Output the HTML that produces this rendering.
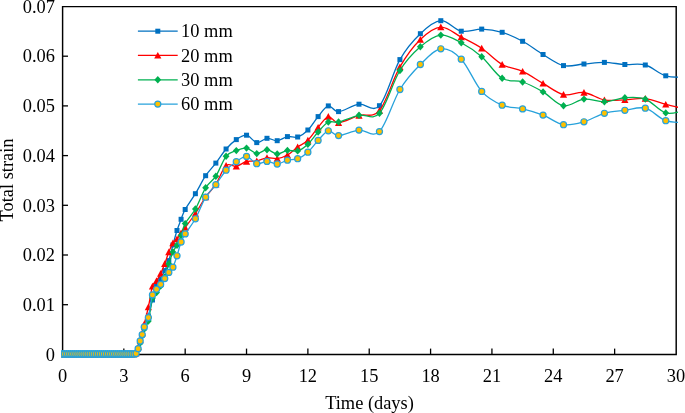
<!DOCTYPE html>
<html><head><meta charset="utf-8"><style>
html,body{margin:0;padding:0;background:#fff;}
body{width:685px;height:413px;overflow:hidden;}
svg{display:block;will-change:transform;}
text{font-family:"Liberation Serif",serif;font-size:18.4px;fill:#000;}
</style></head><body>
<svg width="685" height="413" viewBox="0 0 685 413">
<defs><clipPath id="pa"><rect x="61" y="0" width="617" height="365"/></clipPath></defs>

<path d="M62.6,6.6 H676.2 V354.4 H62.6 Z" fill="none" stroke="#000" stroke-width="1.45"/>
<line x1="62.6" y1="304.70" x2="68.0" y2="304.70" stroke="#000" stroke-width="1.3"/>
<line x1="62.6" y1="255.00" x2="68.0" y2="255.00" stroke="#000" stroke-width="1.3"/>
<line x1="62.6" y1="205.30" x2="68.0" y2="205.30" stroke="#000" stroke-width="1.3"/>
<line x1="62.6" y1="155.60" x2="68.0" y2="155.60" stroke="#000" stroke-width="1.3"/>
<line x1="62.6" y1="105.90" x2="68.0" y2="105.90" stroke="#000" stroke-width="1.3"/>
<line x1="62.6" y1="56.20" x2="68.0" y2="56.20" stroke="#000" stroke-width="1.3"/>
<line x1="123.83" y1="354.4" x2="123.83" y2="348.6" stroke="#000" stroke-width="1.3"/>
<line x1="185.18" y1="354.4" x2="185.18" y2="348.6" stroke="#000" stroke-width="1.3"/>
<line x1="246.53" y1="354.4" x2="246.53" y2="348.6" stroke="#000" stroke-width="1.3"/>
<line x1="307.88" y1="354.4" x2="307.88" y2="348.6" stroke="#000" stroke-width="1.3"/>
<line x1="369.23" y1="354.4" x2="369.23" y2="348.6" stroke="#000" stroke-width="1.3"/>
<line x1="430.58" y1="354.4" x2="430.58" y2="348.6" stroke="#000" stroke-width="1.3"/>
<line x1="491.93" y1="354.4" x2="491.93" y2="348.6" stroke="#000" stroke-width="1.3"/>
<line x1="553.28" y1="354.4" x2="553.28" y2="348.6" stroke="#000" stroke-width="1.3"/>
<line x1="614.63" y1="354.4" x2="614.63" y2="348.6" stroke="#000" stroke-width="1.3"/>
<text x="55" y="360.60" text-anchor="end">0</text>
<text x="55" y="310.90" text-anchor="end">0.01</text>
<text x="55" y="261.20" text-anchor="end">0.02</text>
<text x="55" y="211.50" text-anchor="end">0.03</text>
<text x="55" y="161.80" text-anchor="end">0.04</text>
<text x="55" y="112.10" text-anchor="end">0.05</text>
<text x="55" y="62.40" text-anchor="end">0.06</text>
<text x="55" y="12.70" text-anchor="end">0.07</text>
<text x="62.48" y="381.5" text-anchor="middle">0</text>
<text x="123.83" y="381.5" text-anchor="middle">3</text>
<text x="185.18" y="381.5" text-anchor="middle">6</text>
<text x="246.53" y="381.5" text-anchor="middle">9</text>
<text x="307.88" y="381.5" text-anchor="middle">12</text>
<text x="369.23" y="381.5" text-anchor="middle">15</text>
<text x="430.58" y="381.5" text-anchor="middle">18</text>
<text x="491.93" y="381.5" text-anchor="middle">21</text>
<text x="553.28" y="381.5" text-anchor="middle">24</text>
<text x="614.63" y="381.5" text-anchor="middle">27</text>
<text x="675.98" y="381.5" text-anchor="middle">30</text>
<text x="369.5" y="409" text-anchor="middle">Time (days)</text>
<text transform="translate(13.2,180) rotate(-90)" text-anchor="middle">Total strain</text>
<g clip-path="url(#pa)">
<path d="M62.48,354.00 C62.82,354.00 63.84,354.00 64.52,354.00 C65.21,354.00 65.89,354.00 66.57,354.00 C67.25,354.00 67.93,354.00 68.61,354.00 C69.30,354.00 69.98,354.00 70.66,354.00 C71.34,354.00 72.02,354.00 72.70,354.00 C73.39,354.00 74.07,354.00 74.75,354.00 C75.43,354.00 76.11,354.00 76.79,354.00 C77.48,354.00 78.16,354.00 78.84,354.00 C79.52,354.00 80.20,354.00 80.88,354.00 C81.57,354.00 82.25,354.00 82.93,354.00 C83.61,354.00 84.29,354.00 84.97,354.00 C85.66,354.00 86.34,354.00 87.02,354.00 C87.70,354.00 88.38,354.00 89.06,354.00 C89.75,354.00 90.43,354.00 91.11,354.00 C91.79,354.00 92.47,354.00 93.16,354.00 C93.84,354.00 94.52,354.00 95.20,354.00 C95.88,354.00 96.56,354.00 97.25,354.00 C97.93,354.00 98.61,354.00 99.29,354.00 C99.97,354.00 100.65,354.00 101.33,354.00 C102.02,354.00 102.70,354.00 103.38,354.00 C104.06,354.00 104.74,354.00 105.42,354.00 C106.11,354.00 106.79,354.00 107.47,354.00 C108.15,354.00 108.83,354.00 109.51,354.00 C110.20,354.00 110.88,354.00 111.56,354.00 C112.24,354.00 112.92,354.00 113.60,354.00 C114.29,354.00 114.97,354.00 115.65,354.00 C116.33,354.00 117.01,354.00 117.69,354.00 C118.38,354.00 119.06,354.00 119.74,354.00 C120.42,354.00 121.10,354.00 121.78,354.00 C122.47,354.00 123.15,354.00 123.83,354.00 C124.51,354.00 125.19,354.00 125.88,354.00 C126.56,354.00 127.24,354.00 127.92,354.00 C128.60,354.00 129.28,354.00 129.97,354.00 C130.65,354.00 131.33,354.00 132.01,354.00 C132.69,354.00 133.37,354.00 134.06,354.00 C134.74,354.00 135.42,354.83 136.10,354.00 C136.78,353.17 137.46,351.00 138.15,349.00 C138.83,347.00 139.51,344.33 140.19,342.00 C140.87,339.67 141.55,337.33 142.23,335.00 C142.92,332.67 143.26,331.17 144.28,328.00 C145.30,324.83 147.01,320.67 148.37,316.00 C149.73,311.33 151.10,305.00 152.46,300.00 C153.82,295.00 155.19,289.50 156.55,286.00 C157.91,282.50 159.28,281.57 160.64,279.00 C162.00,276.43 163.37,273.67 164.73,270.60 C166.09,267.53 167.46,264.87 168.82,260.60 C170.18,256.33 171.55,250.02 172.91,245.00 C174.27,239.98 175.64,234.78 177.00,230.50 C178.36,226.22 179.73,222.80 181.09,219.30 C182.45,215.80 182.79,213.77 185.18,209.50 C187.57,205.23 192.00,199.33 195.40,193.70 C198.81,188.07 202.22,180.80 205.63,175.70 C209.04,170.60 212.45,167.55 215.85,163.10 C219.26,158.65 222.67,152.92 226.08,149.00 C229.49,145.08 232.90,141.90 236.30,139.60 C239.71,137.30 243.12,134.70 246.53,135.20 C249.94,135.70 253.35,142.08 256.75,142.60 C260.16,143.12 263.57,138.62 266.98,138.30 C270.39,137.98 273.80,140.98 277.20,140.70 C280.61,140.42 284.02,137.22 287.43,136.60 C290.84,135.98 294.25,138.10 297.65,137.00 C301.06,135.90 304.47,133.40 307.88,130.00 C311.29,126.60 314.70,120.62 318.11,116.60 C321.51,112.58 324.92,106.73 328.33,105.90 C331.74,105.07 333.44,111.88 338.56,111.60 C343.67,111.32 352.19,105.18 359.00,104.20 C365.82,103.22 372.64,113.13 379.45,105.70 C386.27,98.27 393.09,71.60 399.91,59.60 C406.72,47.60 413.54,40.18 420.36,33.70 C427.17,27.22 433.99,21.12 440.81,20.70 C447.62,20.28 454.44,29.80 461.25,31.20 C468.07,32.60 474.89,28.92 481.70,29.10 C488.52,29.28 495.34,30.27 502.16,32.30 C508.97,34.33 515.79,37.60 522.61,41.30 C529.42,45.00 536.24,50.45 543.05,54.50 C549.87,58.55 556.69,64.02 563.50,65.60 C570.32,67.18 577.14,64.53 583.96,64.00 C590.77,63.47 597.59,62.32 604.40,62.40 C611.22,62.48 618.04,64.07 624.86,64.50 C631.67,64.93 638.49,63.12 645.30,65.00 C652.12,66.88 658.94,73.80 665.75,75.80 C672.57,77.80 682.80,76.80 686.21,77.00" fill="none" stroke="#0070C0" stroke-width="1.3"/>
<rect x="59.98" y="351.50" width="5" height="5" fill="#0070C0"/>
<rect x="62.02" y="351.50" width="5" height="5" fill="#0070C0"/>
<rect x="64.07" y="351.50" width="5" height="5" fill="#0070C0"/>
<rect x="66.11" y="351.50" width="5" height="5" fill="#0070C0"/>
<rect x="68.16" y="351.50" width="5" height="5" fill="#0070C0"/>
<rect x="70.20" y="351.50" width="5" height="5" fill="#0070C0"/>
<rect x="72.25" y="351.50" width="5" height="5" fill="#0070C0"/>
<rect x="74.29" y="351.50" width="5" height="5" fill="#0070C0"/>
<rect x="76.34" y="351.50" width="5" height="5" fill="#0070C0"/>
<rect x="78.38" y="351.50" width="5" height="5" fill="#0070C0"/>
<rect x="80.43" y="351.50" width="5" height="5" fill="#0070C0"/>
<rect x="82.47" y="351.50" width="5" height="5" fill="#0070C0"/>
<rect x="84.52" y="351.50" width="5" height="5" fill="#0070C0"/>
<rect x="86.56" y="351.50" width="5" height="5" fill="#0070C0"/>
<rect x="88.61" y="351.50" width="5" height="5" fill="#0070C0"/>
<rect x="90.66" y="351.50" width="5" height="5" fill="#0070C0"/>
<rect x="92.70" y="351.50" width="5" height="5" fill="#0070C0"/>
<rect x="94.75" y="351.50" width="5" height="5" fill="#0070C0"/>
<rect x="96.79" y="351.50" width="5" height="5" fill="#0070C0"/>
<rect x="98.83" y="351.50" width="5" height="5" fill="#0070C0"/>
<rect x="100.88" y="351.50" width="5" height="5" fill="#0070C0"/>
<rect x="102.92" y="351.50" width="5" height="5" fill="#0070C0"/>
<rect x="104.97" y="351.50" width="5" height="5" fill="#0070C0"/>
<rect x="107.01" y="351.50" width="5" height="5" fill="#0070C0"/>
<rect x="109.06" y="351.50" width="5" height="5" fill="#0070C0"/>
<rect x="111.10" y="351.50" width="5" height="5" fill="#0070C0"/>
<rect x="113.15" y="351.50" width="5" height="5" fill="#0070C0"/>
<rect x="115.19" y="351.50" width="5" height="5" fill="#0070C0"/>
<rect x="117.24" y="351.50" width="5" height="5" fill="#0070C0"/>
<rect x="119.28" y="351.50" width="5" height="5" fill="#0070C0"/>
<rect x="121.33" y="351.50" width="5" height="5" fill="#0070C0"/>
<rect x="123.38" y="351.50" width="5" height="5" fill="#0070C0"/>
<rect x="125.42" y="351.50" width="5" height="5" fill="#0070C0"/>
<rect x="127.47" y="351.50" width="5" height="5" fill="#0070C0"/>
<rect x="129.51" y="351.50" width="5" height="5" fill="#0070C0"/>
<rect x="131.56" y="351.50" width="5" height="5" fill="#0070C0"/>
<rect x="133.60" y="351.50" width="5" height="5" fill="#0070C0"/>
<rect x="135.65" y="346.50" width="5" height="5" fill="#0070C0"/>
<rect x="137.69" y="339.50" width="5" height="5" fill="#0070C0"/>
<rect x="139.73" y="332.50" width="5" height="5" fill="#0070C0"/>
<rect x="141.78" y="325.50" width="5" height="5" fill="#0070C0"/>
<rect x="145.87" y="313.50" width="5" height="5" fill="#0070C0"/>
<rect x="149.96" y="297.50" width="5" height="5" fill="#0070C0"/>
<rect x="154.05" y="283.50" width="5" height="5" fill="#0070C0"/>
<rect x="158.14" y="276.50" width="5" height="5" fill="#0070C0"/>
<rect x="162.23" y="268.10" width="5" height="5" fill="#0070C0"/>
<rect x="166.32" y="258.10" width="5" height="5" fill="#0070C0"/>
<rect x="170.41" y="242.50" width="5" height="5" fill="#0070C0"/>
<rect x="174.50" y="228.00" width="5" height="5" fill="#0070C0"/>
<rect x="178.59" y="216.80" width="5" height="5" fill="#0070C0"/>
<rect x="182.68" y="207.00" width="5" height="5" fill="#0070C0"/>
<rect x="192.90" y="191.20" width="5" height="5" fill="#0070C0"/>
<rect x="203.13" y="173.20" width="5" height="5" fill="#0070C0"/>
<rect x="213.35" y="160.60" width="5" height="5" fill="#0070C0"/>
<rect x="223.58" y="146.50" width="5" height="5" fill="#0070C0"/>
<rect x="233.80" y="137.10" width="5" height="5" fill="#0070C0"/>
<rect x="244.03" y="132.70" width="5" height="5" fill="#0070C0"/>
<rect x="254.25" y="140.10" width="5" height="5" fill="#0070C0"/>
<rect x="264.48" y="135.80" width="5" height="5" fill="#0070C0"/>
<rect x="274.70" y="138.20" width="5" height="5" fill="#0070C0"/>
<rect x="284.93" y="134.10" width="5" height="5" fill="#0070C0"/>
<rect x="295.15" y="134.50" width="5" height="5" fill="#0070C0"/>
<rect x="305.38" y="127.50" width="5" height="5" fill="#0070C0"/>
<rect x="315.61" y="114.10" width="5" height="5" fill="#0070C0"/>
<rect x="325.83" y="103.40" width="5" height="5" fill="#0070C0"/>
<rect x="336.06" y="109.10" width="5" height="5" fill="#0070C0"/>
<rect x="356.50" y="101.70" width="5" height="5" fill="#0070C0"/>
<rect x="376.95" y="103.20" width="5" height="5" fill="#0070C0"/>
<rect x="397.41" y="57.10" width="5" height="5" fill="#0070C0"/>
<rect x="417.86" y="31.20" width="5" height="5" fill="#0070C0"/>
<rect x="438.31" y="18.20" width="5" height="5" fill="#0070C0"/>
<rect x="458.75" y="28.70" width="5" height="5" fill="#0070C0"/>
<rect x="479.20" y="26.60" width="5" height="5" fill="#0070C0"/>
<rect x="499.66" y="29.80" width="5" height="5" fill="#0070C0"/>
<rect x="520.11" y="38.80" width="5" height="5" fill="#0070C0"/>
<rect x="540.55" y="52.00" width="5" height="5" fill="#0070C0"/>
<rect x="561.00" y="63.10" width="5" height="5" fill="#0070C0"/>
<rect x="581.46" y="61.50" width="5" height="5" fill="#0070C0"/>
<rect x="601.90" y="59.90" width="5" height="5" fill="#0070C0"/>
<rect x="622.36" y="62.00" width="5" height="5" fill="#0070C0"/>
<rect x="642.80" y="62.50" width="5" height="5" fill="#0070C0"/>
<rect x="663.25" y="73.30" width="5" height="5" fill="#0070C0"/>
<rect x="683.71" y="74.50" width="5" height="5" fill="#0070C0"/>
<path d="M62.48,354.00 C62.82,354.00 63.84,354.00 64.52,354.00 C65.21,354.00 65.89,354.00 66.57,354.00 C67.25,354.00 67.93,354.00 68.61,354.00 C69.30,354.00 69.98,354.00 70.66,354.00 C71.34,354.00 72.02,354.00 72.70,354.00 C73.39,354.00 74.07,354.00 74.75,354.00 C75.43,354.00 76.11,354.00 76.79,354.00 C77.48,354.00 78.16,354.00 78.84,354.00 C79.52,354.00 80.20,354.00 80.88,354.00 C81.57,354.00 82.25,354.00 82.93,354.00 C83.61,354.00 84.29,354.00 84.97,354.00 C85.66,354.00 86.34,354.00 87.02,354.00 C87.70,354.00 88.38,354.00 89.06,354.00 C89.75,354.00 90.43,354.00 91.11,354.00 C91.79,354.00 92.47,354.00 93.16,354.00 C93.84,354.00 94.52,354.00 95.20,354.00 C95.88,354.00 96.56,354.00 97.25,354.00 C97.93,354.00 98.61,354.00 99.29,354.00 C99.97,354.00 100.65,354.00 101.33,354.00 C102.02,354.00 102.70,354.00 103.38,354.00 C104.06,354.00 104.74,354.00 105.42,354.00 C106.11,354.00 106.79,354.00 107.47,354.00 C108.15,354.00 108.83,354.00 109.51,354.00 C110.20,354.00 110.88,354.00 111.56,354.00 C112.24,354.00 112.92,354.00 113.60,354.00 C114.29,354.00 114.97,354.00 115.65,354.00 C116.33,354.00 117.01,354.00 117.69,354.00 C118.38,354.00 119.06,354.00 119.74,354.00 C120.42,354.00 121.10,354.00 121.78,354.00 C122.47,354.00 123.15,354.00 123.83,354.00 C124.51,354.00 125.19,354.00 125.88,354.00 C126.56,354.00 127.24,354.00 127.92,354.00 C128.60,354.00 129.28,354.00 129.97,354.00 C130.65,354.00 131.33,354.00 132.01,354.00 C132.69,354.00 133.37,354.17 134.06,354.00 C134.74,353.83 135.42,354.17 136.10,353.00 C136.78,351.83 137.46,349.17 138.15,347.00 C138.83,344.83 139.51,342.33 140.19,340.00 C140.87,337.67 141.55,335.67 142.23,333.00 C142.92,330.33 143.26,328.33 144.28,324.00 C145.30,319.67 147.01,313.28 148.37,307.00 C149.73,300.72 151.10,290.67 152.46,286.30 C153.82,281.93 155.19,282.92 156.55,280.80 C157.91,278.68 159.28,276.43 160.64,273.60 C162.00,270.77 163.37,267.40 164.73,263.80 C166.09,260.20 167.46,255.47 168.82,252.00 C170.18,248.53 171.55,245.17 172.91,243.00 C174.27,240.83 175.64,240.67 177.00,239.00 C178.36,237.33 179.73,234.92 181.09,233.00 C182.45,231.08 182.79,230.75 185.18,227.50 C187.57,224.25 192.00,218.58 195.40,213.50 C198.81,208.42 202.22,201.88 205.63,197.00 C209.04,192.12 212.45,189.45 215.85,184.20 C219.26,178.95 222.67,168.48 226.08,165.50 C229.49,162.52 232.90,166.97 236.30,166.30 C239.71,165.63 243.12,162.38 246.53,161.50 C249.94,160.62 253.35,161.62 256.75,161.00 C260.16,160.38 263.57,158.20 266.98,157.80 C270.39,157.40 273.80,159.07 277.20,158.60 C280.61,158.13 284.02,156.93 287.43,155.00 C290.84,153.07 294.25,149.45 297.65,147.00 C301.06,144.55 304.47,143.57 307.88,140.30 C311.29,137.03 314.70,131.35 318.11,127.40 C321.51,123.45 324.92,117.38 328.33,116.60 C331.74,115.82 333.44,122.88 338.56,122.70 C343.67,122.52 352.19,117.53 359.00,115.50 C365.82,113.47 372.64,118.60 379.45,110.50 C386.27,102.40 393.09,78.73 399.91,66.90 C406.72,55.07 413.54,46.13 420.36,39.50 C427.17,32.87 433.99,27.50 440.81,27.10 C447.62,26.70 454.44,33.57 461.25,37.10 C468.07,40.63 474.89,43.73 481.70,48.30 C488.52,52.87 495.34,60.65 502.16,64.50 C508.97,68.35 515.79,68.25 522.61,71.40 C529.42,74.55 536.24,79.53 543.05,83.40 C549.87,87.27 556.69,93.08 563.50,94.60 C570.32,96.12 577.14,91.62 583.96,92.50 C590.77,93.38 597.59,98.67 604.40,99.90 C611.22,101.13 618.04,100.12 624.86,99.90 C631.67,99.68 638.49,97.85 645.30,98.60 C652.12,99.35 658.94,102.67 665.75,104.40 C672.57,106.13 682.80,108.23 686.21,109.00" fill="none" stroke="#FF0000" stroke-width="1.3"/>
<path d="M62.48,350.50 L66.08,357.20 L58.88,357.20 Z" fill="#FF0000"/>
<path d="M64.52,350.50 L68.12,357.20 L60.92,357.20 Z" fill="#FF0000"/>
<path d="M66.57,350.50 L70.17,357.20 L62.97,357.20 Z" fill="#FF0000"/>
<path d="M68.61,350.50 L72.21,357.20 L65.02,357.20 Z" fill="#FF0000"/>
<path d="M70.66,350.50 L74.26,357.20 L67.06,357.20 Z" fill="#FF0000"/>
<path d="M72.70,350.50 L76.30,357.20 L69.11,357.20 Z" fill="#FF0000"/>
<path d="M74.75,350.50 L78.35,357.20 L71.15,357.20 Z" fill="#FF0000"/>
<path d="M76.79,350.50 L80.39,357.20 L73.19,357.20 Z" fill="#FF0000"/>
<path d="M78.84,350.50 L82.44,357.20 L75.24,357.20 Z" fill="#FF0000"/>
<path d="M80.88,350.50 L84.48,357.20 L77.28,357.20 Z" fill="#FF0000"/>
<path d="M82.93,350.50 L86.53,357.20 L79.33,357.20 Z" fill="#FF0000"/>
<path d="M84.97,350.50 L88.57,357.20 L81.38,357.20 Z" fill="#FF0000"/>
<path d="M87.02,350.50 L90.62,357.20 L83.42,357.20 Z" fill="#FF0000"/>
<path d="M89.06,350.50 L92.66,357.20 L85.47,357.20 Z" fill="#FF0000"/>
<path d="M91.11,350.50 L94.71,357.20 L87.51,357.20 Z" fill="#FF0000"/>
<path d="M93.16,350.50 L96.75,357.20 L89.56,357.20 Z" fill="#FF0000"/>
<path d="M95.20,350.50 L98.80,357.20 L91.60,357.20 Z" fill="#FF0000"/>
<path d="M97.25,350.50 L100.84,357.20 L93.65,357.20 Z" fill="#FF0000"/>
<path d="M99.29,350.50 L102.89,357.20 L95.69,357.20 Z" fill="#FF0000"/>
<path d="M101.33,350.50 L104.93,357.20 L97.73,357.20 Z" fill="#FF0000"/>
<path d="M103.38,350.50 L106.98,357.20 L99.78,357.20 Z" fill="#FF0000"/>
<path d="M105.42,350.50 L109.02,357.20 L101.83,357.20 Z" fill="#FF0000"/>
<path d="M107.47,350.50 L111.07,357.20 L103.87,357.20 Z" fill="#FF0000"/>
<path d="M109.51,350.50 L113.11,357.20 L105.91,357.20 Z" fill="#FF0000"/>
<path d="M111.56,350.50 L115.16,357.20 L107.96,357.20 Z" fill="#FF0000"/>
<path d="M113.60,350.50 L117.20,357.20 L110.00,357.20 Z" fill="#FF0000"/>
<path d="M115.65,350.50 L119.25,357.20 L112.05,357.20 Z" fill="#FF0000"/>
<path d="M117.69,350.50 L121.29,357.20 L114.09,357.20 Z" fill="#FF0000"/>
<path d="M119.74,350.50 L123.34,357.20 L116.14,357.20 Z" fill="#FF0000"/>
<path d="M121.78,350.50 L125.38,357.20 L118.19,357.20 Z" fill="#FF0000"/>
<path d="M123.83,350.50 L127.43,357.20 L120.23,357.20 Z" fill="#FF0000"/>
<path d="M125.88,350.50 L129.47,357.20 L122.28,357.20 Z" fill="#FF0000"/>
<path d="M127.92,350.50 L131.52,357.20 L124.32,357.20 Z" fill="#FF0000"/>
<path d="M129.97,350.50 L133.56,357.20 L126.37,357.20 Z" fill="#FF0000"/>
<path d="M132.01,350.50 L135.61,357.20 L128.41,357.20 Z" fill="#FF0000"/>
<path d="M134.06,350.50 L137.66,357.20 L130.46,357.20 Z" fill="#FF0000"/>
<path d="M136.10,349.50 L139.70,356.20 L132.50,356.20 Z" fill="#FF0000"/>
<path d="M138.15,343.50 L141.75,350.20 L134.55,350.20 Z" fill="#FF0000"/>
<path d="M140.19,336.50 L143.79,343.20 L136.59,343.20 Z" fill="#FF0000"/>
<path d="M142.23,329.50 L145.83,336.20 L138.63,336.20 Z" fill="#FF0000"/>
<path d="M144.28,320.50 L147.88,327.20 L140.68,327.20 Z" fill="#FF0000"/>
<path d="M148.37,303.50 L151.97,310.20 L144.77,310.20 Z" fill="#FF0000"/>
<path d="M152.46,282.80 L156.06,289.50 L148.86,289.50 Z" fill="#FF0000"/>
<path d="M156.55,277.30 L160.15,284.00 L152.95,284.00 Z" fill="#FF0000"/>
<path d="M160.64,270.10 L164.24,276.80 L157.04,276.80 Z" fill="#FF0000"/>
<path d="M164.73,260.30 L168.33,267.00 L161.13,267.00 Z" fill="#FF0000"/>
<path d="M168.82,248.50 L172.42,255.20 L165.22,255.20 Z" fill="#FF0000"/>
<path d="M172.91,239.50 L176.51,246.20 L169.31,246.20 Z" fill="#FF0000"/>
<path d="M177.00,235.50 L180.60,242.20 L173.40,242.20 Z" fill="#FF0000"/>
<path d="M181.09,229.50 L184.69,236.20 L177.49,236.20 Z" fill="#FF0000"/>
<path d="M185.18,224.00 L188.78,230.70 L181.58,230.70 Z" fill="#FF0000"/>
<path d="M195.40,210.00 L199.00,216.70 L191.80,216.70 Z" fill="#FF0000"/>
<path d="M205.63,193.50 L209.23,200.20 L202.03,200.20 Z" fill="#FF0000"/>
<path d="M215.85,180.70 L219.45,187.40 L212.25,187.40 Z" fill="#FF0000"/>
<path d="M226.08,162.00 L229.68,168.70 L222.48,168.70 Z" fill="#FF0000"/>
<path d="M236.30,162.80 L239.90,169.50 L232.70,169.50 Z" fill="#FF0000"/>
<path d="M246.53,158.00 L250.13,164.70 L242.93,164.70 Z" fill="#FF0000"/>
<path d="M256.75,157.50 L260.36,164.20 L253.16,164.20 Z" fill="#FF0000"/>
<path d="M266.98,154.30 L270.58,161.00 L263.38,161.00 Z" fill="#FF0000"/>
<path d="M277.20,155.10 L280.81,161.80 L273.60,161.80 Z" fill="#FF0000"/>
<path d="M287.43,151.50 L291.03,158.20 L283.83,158.20 Z" fill="#FF0000"/>
<path d="M297.65,143.50 L301.25,150.20 L294.05,150.20 Z" fill="#FF0000"/>
<path d="M307.88,136.80 L311.48,143.50 L304.28,143.50 Z" fill="#FF0000"/>
<path d="M318.11,123.90 L321.71,130.60 L314.50,130.60 Z" fill="#FF0000"/>
<path d="M328.33,113.10 L331.93,119.80 L324.73,119.80 Z" fill="#FF0000"/>
<path d="M338.56,119.20 L342.16,125.90 L334.95,125.90 Z" fill="#FF0000"/>
<path d="M359.00,112.00 L362.61,118.70 L355.40,118.70 Z" fill="#FF0000"/>
<path d="M379.45,107.00 L383.06,113.70 L375.85,113.70 Z" fill="#FF0000"/>
<path d="M399.91,63.40 L403.51,70.10 L396.31,70.10 Z" fill="#FF0000"/>
<path d="M420.36,36.00 L423.96,42.70 L416.75,42.70 Z" fill="#FF0000"/>
<path d="M440.81,23.60 L444.41,30.30 L437.20,30.30 Z" fill="#FF0000"/>
<path d="M461.25,33.60 L464.86,40.30 L457.65,40.30 Z" fill="#FF0000"/>
<path d="M481.70,44.80 L485.31,51.50 L478.10,51.50 Z" fill="#FF0000"/>
<path d="M502.16,61.00 L505.76,67.70 L498.56,67.70 Z" fill="#FF0000"/>
<path d="M522.61,67.90 L526.21,74.60 L519.00,74.60 Z" fill="#FF0000"/>
<path d="M543.05,79.90 L546.65,86.60 L539.45,86.60 Z" fill="#FF0000"/>
<path d="M563.50,91.10 L567.11,97.80 L559.90,97.80 Z" fill="#FF0000"/>
<path d="M583.96,89.00 L587.56,95.70 L580.36,95.70 Z" fill="#FF0000"/>
<path d="M604.40,96.40 L608.00,103.10 L600.80,103.10 Z" fill="#FF0000"/>
<path d="M624.86,96.40 L628.46,103.10 L621.25,103.10 Z" fill="#FF0000"/>
<path d="M645.30,95.10 L648.90,101.80 L641.70,101.80 Z" fill="#FF0000"/>
<path d="M665.75,100.90 L669.36,107.60 L662.15,107.60 Z" fill="#FF0000"/>
<path d="M686.21,105.50 L689.81,112.20 L682.61,112.20 Z" fill="#FF0000"/>
<path d="M62.48,354.00 C62.82,354.00 63.84,354.00 64.52,354.00 C65.21,354.00 65.89,354.00 66.57,354.00 C67.25,354.00 67.93,354.00 68.61,354.00 C69.30,354.00 69.98,354.00 70.66,354.00 C71.34,354.00 72.02,354.00 72.70,354.00 C73.39,354.00 74.07,354.00 74.75,354.00 C75.43,354.00 76.11,354.00 76.79,354.00 C77.48,354.00 78.16,354.00 78.84,354.00 C79.52,354.00 80.20,354.00 80.88,354.00 C81.57,354.00 82.25,354.00 82.93,354.00 C83.61,354.00 84.29,354.00 84.97,354.00 C85.66,354.00 86.34,354.00 87.02,354.00 C87.70,354.00 88.38,354.00 89.06,354.00 C89.75,354.00 90.43,354.00 91.11,354.00 C91.79,354.00 92.47,354.00 93.16,354.00 C93.84,354.00 94.52,354.00 95.20,354.00 C95.88,354.00 96.56,354.00 97.25,354.00 C97.93,354.00 98.61,354.00 99.29,354.00 C99.97,354.00 100.65,354.00 101.33,354.00 C102.02,354.00 102.70,354.00 103.38,354.00 C104.06,354.00 104.74,354.00 105.42,354.00 C106.11,354.00 106.79,354.00 107.47,354.00 C108.15,354.00 108.83,354.00 109.51,354.00 C110.20,354.00 110.88,354.00 111.56,354.00 C112.24,354.00 112.92,354.00 113.60,354.00 C114.29,354.00 114.97,354.00 115.65,354.00 C116.33,354.00 117.01,354.00 117.69,354.00 C118.38,354.00 119.06,354.00 119.74,354.00 C120.42,354.00 121.10,354.00 121.78,354.00 C122.47,354.00 123.15,354.00 123.83,354.00 C124.51,354.00 125.19,354.00 125.88,354.00 C126.56,354.00 127.24,354.00 127.92,354.00 C128.60,354.00 129.28,354.00 129.97,354.00 C130.65,354.00 131.33,354.00 132.01,354.00 C132.69,354.00 133.37,354.00 134.06,354.00 C134.74,354.00 135.42,354.75 136.10,354.00 C136.78,353.25 137.46,351.33 138.15,349.50 C138.83,347.67 139.51,345.25 140.19,343.00 C140.87,340.75 141.55,338.33 142.23,336.00 C142.92,333.67 143.26,331.50 144.28,329.00 C145.30,326.50 147.01,326.17 148.37,321.00 C149.73,315.83 151.10,302.75 152.46,298.00 C153.82,293.25 155.19,294.50 156.55,292.50 C157.91,290.50 159.28,288.58 160.64,286.00 C162.00,283.42 163.37,280.67 164.73,277.00 C166.09,273.33 167.46,268.17 168.82,264.00 C170.18,259.83 171.55,255.13 172.91,252.00 C174.27,248.87 175.64,247.95 177.00,245.20 C178.36,242.45 179.73,239.10 181.09,235.50 C182.45,231.90 182.79,228.02 185.18,223.60 C187.57,219.18 192.00,214.97 195.40,209.00 C198.81,203.03 202.22,193.27 205.63,187.80 C209.04,182.33 212.45,181.45 215.85,176.20 C219.26,170.95 222.67,160.57 226.08,156.30 C229.49,152.03 232.90,151.97 236.30,150.60 C239.71,149.23 243.12,147.60 246.53,148.10 C249.94,148.60 253.35,153.33 256.75,153.60 C260.16,153.87 263.57,149.63 266.98,149.70 C270.39,149.77 273.80,153.88 277.20,154.00 C280.61,154.12 284.02,150.92 287.43,150.40 C290.84,149.88 294.25,151.93 297.65,150.90 C301.06,149.87 304.47,147.35 307.88,144.20 C311.29,141.05 314.70,135.70 318.11,132.00 C321.51,128.30 324.92,123.67 328.33,122.00 C331.74,120.33 333.44,123.12 338.56,122.00 C343.67,120.88 352.19,116.75 359.00,115.30 C365.82,113.85 372.64,120.77 379.45,113.30 C386.27,105.83 393.09,81.58 399.91,70.50 C406.72,59.42 413.54,52.70 420.36,46.80 C427.17,40.90 433.99,35.78 440.81,35.10 C447.62,34.42 454.44,39.10 461.25,42.70 C468.07,46.30 474.89,50.77 481.70,56.70 C488.52,62.63 495.34,74.08 502.16,78.30 C508.97,82.52 515.79,79.73 522.61,82.00 C529.42,84.27 536.24,87.93 543.05,91.90 C549.87,95.87 556.69,104.60 563.50,105.80 C570.32,107.00 577.14,99.77 583.96,99.10 C590.77,98.43 597.59,102.02 604.40,101.80 C611.22,101.58 618.04,98.25 624.86,97.80 C631.67,97.35 638.49,96.58 645.30,99.10 C652.12,101.62 658.94,111.08 665.75,112.90 C672.57,114.72 682.80,110.48 686.21,110.00" fill="none" stroke="#00B050" stroke-width="1.3"/>
<path d="M62.48,350.30 L65.88,354.00 L62.48,357.70 L59.08,354.00 Z" fill="#00B050"/>
<path d="M64.52,350.30 L67.92,354.00 L64.52,357.70 L61.12,354.00 Z" fill="#00B050"/>
<path d="M66.57,350.30 L69.97,354.00 L66.57,357.70 L63.17,354.00 Z" fill="#00B050"/>
<path d="M68.61,350.30 L72.02,354.00 L68.61,357.70 L65.21,354.00 Z" fill="#00B050"/>
<path d="M70.66,350.30 L74.06,354.00 L70.66,357.70 L67.26,354.00 Z" fill="#00B050"/>
<path d="M72.70,350.30 L76.11,354.00 L72.70,357.70 L69.30,354.00 Z" fill="#00B050"/>
<path d="M74.75,350.30 L78.15,354.00 L74.75,357.70 L71.35,354.00 Z" fill="#00B050"/>
<path d="M76.79,350.30 L80.19,354.00 L76.79,357.70 L73.39,354.00 Z" fill="#00B050"/>
<path d="M78.84,350.30 L82.24,354.00 L78.84,357.70 L75.44,354.00 Z" fill="#00B050"/>
<path d="M80.88,350.30 L84.28,354.00 L80.88,357.70 L77.48,354.00 Z" fill="#00B050"/>
<path d="M82.93,350.30 L86.33,354.00 L82.93,357.70 L79.53,354.00 Z" fill="#00B050"/>
<path d="M84.97,350.30 L88.38,354.00 L84.97,357.70 L81.57,354.00 Z" fill="#00B050"/>
<path d="M87.02,350.30 L90.42,354.00 L87.02,357.70 L83.62,354.00 Z" fill="#00B050"/>
<path d="M89.06,350.30 L92.47,354.00 L89.06,357.70 L85.66,354.00 Z" fill="#00B050"/>
<path d="M91.11,350.30 L94.51,354.00 L91.11,357.70 L87.71,354.00 Z" fill="#00B050"/>
<path d="M93.16,350.30 L96.56,354.00 L93.16,357.70 L89.75,354.00 Z" fill="#00B050"/>
<path d="M95.20,350.30 L98.60,354.00 L95.20,357.70 L91.80,354.00 Z" fill="#00B050"/>
<path d="M97.25,350.30 L100.65,354.00 L97.25,357.70 L93.84,354.00 Z" fill="#00B050"/>
<path d="M99.29,350.30 L102.69,354.00 L99.29,357.70 L95.89,354.00 Z" fill="#00B050"/>
<path d="M101.33,350.30 L104.73,354.00 L101.33,357.70 L97.93,354.00 Z" fill="#00B050"/>
<path d="M103.38,350.30 L106.78,354.00 L103.38,357.70 L99.98,354.00 Z" fill="#00B050"/>
<path d="M105.42,350.30 L108.83,354.00 L105.42,357.70 L102.02,354.00 Z" fill="#00B050"/>
<path d="M107.47,350.30 L110.87,354.00 L107.47,357.70 L104.07,354.00 Z" fill="#00B050"/>
<path d="M109.51,350.30 L112.91,354.00 L109.51,357.70 L106.11,354.00 Z" fill="#00B050"/>
<path d="M111.56,350.30 L114.96,354.00 L111.56,357.70 L108.16,354.00 Z" fill="#00B050"/>
<path d="M113.60,350.30 L117.00,354.00 L113.60,357.70 L110.20,354.00 Z" fill="#00B050"/>
<path d="M115.65,350.30 L119.05,354.00 L115.65,357.70 L112.25,354.00 Z" fill="#00B050"/>
<path d="M117.69,350.30 L121.09,354.00 L117.69,357.70 L114.29,354.00 Z" fill="#00B050"/>
<path d="M119.74,350.30 L123.14,354.00 L119.74,357.70 L116.34,354.00 Z" fill="#00B050"/>
<path d="M121.78,350.30 L125.19,354.00 L121.78,357.70 L118.38,354.00 Z" fill="#00B050"/>
<path d="M123.83,350.30 L127.23,354.00 L123.83,357.70 L120.43,354.00 Z" fill="#00B050"/>
<path d="M125.88,350.30 L129.28,354.00 L125.88,357.70 L122.47,354.00 Z" fill="#00B050"/>
<path d="M127.92,350.30 L131.32,354.00 L127.92,357.70 L124.52,354.00 Z" fill="#00B050"/>
<path d="M129.97,350.30 L133.37,354.00 L129.97,357.70 L126.56,354.00 Z" fill="#00B050"/>
<path d="M132.01,350.30 L135.41,354.00 L132.01,357.70 L128.61,354.00 Z" fill="#00B050"/>
<path d="M134.06,350.30 L137.46,354.00 L134.06,357.70 L130.66,354.00 Z" fill="#00B050"/>
<path d="M136.10,350.30 L139.50,354.00 L136.10,357.70 L132.70,354.00 Z" fill="#00B050"/>
<path d="M138.15,345.80 L141.55,349.50 L138.15,353.20 L134.75,349.50 Z" fill="#00B050"/>
<path d="M140.19,339.30 L143.59,343.00 L140.19,346.70 L136.79,343.00 Z" fill="#00B050"/>
<path d="M142.23,332.30 L145.63,336.00 L142.23,339.70 L138.83,336.00 Z" fill="#00B050"/>
<path d="M144.28,325.30 L147.68,329.00 L144.28,332.70 L140.88,329.00 Z" fill="#00B050"/>
<path d="M148.37,317.30 L151.77,321.00 L148.37,324.70 L144.97,321.00 Z" fill="#00B050"/>
<path d="M152.46,294.30 L155.86,298.00 L152.46,301.70 L149.06,298.00 Z" fill="#00B050"/>
<path d="M156.55,288.80 L159.95,292.50 L156.55,296.20 L153.15,292.50 Z" fill="#00B050"/>
<path d="M160.64,282.30 L164.04,286.00 L160.64,289.70 L157.24,286.00 Z" fill="#00B050"/>
<path d="M164.73,273.30 L168.13,277.00 L164.73,280.70 L161.33,277.00 Z" fill="#00B050"/>
<path d="M168.82,260.30 L172.22,264.00 L168.82,267.70 L165.42,264.00 Z" fill="#00B050"/>
<path d="M172.91,248.30 L176.31,252.00 L172.91,255.70 L169.51,252.00 Z" fill="#00B050"/>
<path d="M177.00,241.50 L180.40,245.20 L177.00,248.90 L173.60,245.20 Z" fill="#00B050"/>
<path d="M181.09,231.80 L184.49,235.50 L181.09,239.20 L177.69,235.50 Z" fill="#00B050"/>
<path d="M185.18,219.90 L188.58,223.60 L185.18,227.30 L181.78,223.60 Z" fill="#00B050"/>
<path d="M195.40,205.30 L198.80,209.00 L195.40,212.70 L192.00,209.00 Z" fill="#00B050"/>
<path d="M205.63,184.10 L209.03,187.80 L205.63,191.50 L202.23,187.80 Z" fill="#00B050"/>
<path d="M215.85,172.50 L219.25,176.20 L215.85,179.90 L212.45,176.20 Z" fill="#00B050"/>
<path d="M226.08,152.60 L229.48,156.30 L226.08,160.00 L222.68,156.30 Z" fill="#00B050"/>
<path d="M236.30,146.90 L239.70,150.60 L236.30,154.30 L232.90,150.60 Z" fill="#00B050"/>
<path d="M246.53,144.40 L249.93,148.10 L246.53,151.80 L243.13,148.10 Z" fill="#00B050"/>
<path d="M256.75,149.90 L260.15,153.60 L256.75,157.30 L253.35,153.60 Z" fill="#00B050"/>
<path d="M266.98,146.00 L270.38,149.70 L266.98,153.40 L263.58,149.70 Z" fill="#00B050"/>
<path d="M277.20,150.30 L280.60,154.00 L277.20,157.70 L273.81,154.00 Z" fill="#00B050"/>
<path d="M287.43,146.70 L290.83,150.40 L287.43,154.10 L284.03,150.40 Z" fill="#00B050"/>
<path d="M297.65,147.20 L301.05,150.90 L297.65,154.60 L294.25,150.90 Z" fill="#00B050"/>
<path d="M307.88,140.50 L311.28,144.20 L307.88,147.90 L304.48,144.20 Z" fill="#00B050"/>
<path d="M318.11,128.30 L321.50,132.00 L318.11,135.70 L314.71,132.00 Z" fill="#00B050"/>
<path d="M328.33,118.30 L331.73,122.00 L328.33,125.70 L324.93,122.00 Z" fill="#00B050"/>
<path d="M338.56,118.30 L341.95,122.00 L338.56,125.70 L335.16,122.00 Z" fill="#00B050"/>
<path d="M359.00,111.60 L362.40,115.30 L359.00,119.00 L355.61,115.30 Z" fill="#00B050"/>
<path d="M379.45,109.60 L382.85,113.30 L379.45,117.00 L376.06,113.30 Z" fill="#00B050"/>
<path d="M399.91,66.80 L403.31,70.50 L399.91,74.20 L396.51,70.50 Z" fill="#00B050"/>
<path d="M420.36,43.10 L423.75,46.80 L420.36,50.50 L416.96,46.80 Z" fill="#00B050"/>
<path d="M440.81,31.40 L444.20,35.10 L440.81,38.80 L437.41,35.10 Z" fill="#00B050"/>
<path d="M461.25,39.00 L464.65,42.70 L461.25,46.40 L457.86,42.70 Z" fill="#00B050"/>
<path d="M481.70,53.00 L485.10,56.70 L481.70,60.40 L478.31,56.70 Z" fill="#00B050"/>
<path d="M502.16,74.60 L505.56,78.30 L502.16,82.00 L498.76,78.30 Z" fill="#00B050"/>
<path d="M522.61,78.30 L526.00,82.00 L522.61,85.70 L519.21,82.00 Z" fill="#00B050"/>
<path d="M543.05,88.20 L546.45,91.90 L543.05,95.60 L539.65,91.90 Z" fill="#00B050"/>
<path d="M563.50,102.10 L566.90,105.80 L563.50,109.50 L560.11,105.80 Z" fill="#00B050"/>
<path d="M583.96,95.40 L587.36,99.10 L583.96,102.80 L580.56,99.10 Z" fill="#00B050"/>
<path d="M604.40,98.10 L607.80,101.80 L604.40,105.50 L601.00,101.80 Z" fill="#00B050"/>
<path d="M624.86,94.10 L628.25,97.80 L624.86,101.50 L621.46,97.80 Z" fill="#00B050"/>
<path d="M645.30,95.40 L648.70,99.10 L645.30,102.80 L641.90,99.10 Z" fill="#00B050"/>
<path d="M665.75,109.20 L669.15,112.90 L665.75,116.60 L662.36,112.90 Z" fill="#00B050"/>
<path d="M686.21,106.30 L689.61,110.00 L686.21,113.70 L682.81,110.00 Z" fill="#00B050"/>
<path d="M62.48,354.00 C62.82,354.00 63.84,354.00 64.52,354.00 C65.21,354.00 65.89,354.00 66.57,354.00 C67.25,354.00 67.93,354.00 68.61,354.00 C69.30,354.00 69.98,354.00 70.66,354.00 C71.34,354.00 72.02,354.00 72.70,354.00 C73.39,354.00 74.07,354.00 74.75,354.00 C75.43,354.00 76.11,354.00 76.79,354.00 C77.48,354.00 78.16,354.00 78.84,354.00 C79.52,354.00 80.20,354.00 80.88,354.00 C81.57,354.00 82.25,354.00 82.93,354.00 C83.61,354.00 84.29,354.00 84.97,354.00 C85.66,354.00 86.34,354.00 87.02,354.00 C87.70,354.00 88.38,354.00 89.06,354.00 C89.75,354.00 90.43,354.00 91.11,354.00 C91.79,354.00 92.47,354.00 93.16,354.00 C93.84,354.00 94.52,354.00 95.20,354.00 C95.88,354.00 96.56,354.00 97.25,354.00 C97.93,354.00 98.61,354.00 99.29,354.00 C99.97,354.00 100.65,354.00 101.33,354.00 C102.02,354.00 102.70,354.00 103.38,354.00 C104.06,354.00 104.74,354.00 105.42,354.00 C106.11,354.00 106.79,354.00 107.47,354.00 C108.15,354.00 108.83,354.00 109.51,354.00 C110.20,354.00 110.88,354.00 111.56,354.00 C112.24,354.00 112.92,354.00 113.60,354.00 C114.29,354.00 114.97,354.00 115.65,354.00 C116.33,354.00 117.01,354.00 117.69,354.00 C118.38,354.00 119.06,354.00 119.74,354.00 C120.42,354.00 121.10,354.00 121.78,354.00 C122.47,354.00 123.15,354.00 123.83,354.00 C124.51,354.00 125.19,354.00 125.88,354.00 C126.56,354.00 127.24,354.00 127.92,354.00 C128.60,354.00 129.28,354.00 129.97,354.00 C130.65,354.00 131.33,354.00 132.01,354.00 C132.69,354.00 133.37,354.08 134.06,354.00 C134.74,353.92 135.42,354.38 136.10,353.50 C136.78,352.62 137.46,350.78 138.15,348.70 C138.83,346.62 139.51,343.35 140.19,341.00 C140.87,338.65 141.55,336.93 142.23,334.60 C142.92,332.27 143.26,329.83 144.28,327.00 C145.30,324.17 147.01,322.95 148.37,317.60 C149.73,312.25 151.10,299.62 152.46,294.90 C153.82,290.18 155.19,291.05 156.55,289.30 C157.91,287.55 159.28,286.18 160.64,284.40 C162.00,282.62 163.37,280.60 164.73,278.60 C166.09,276.60 167.46,274.30 168.82,272.40 C170.18,270.50 171.55,269.97 172.91,267.20 C174.27,264.43 175.64,260.00 177.00,255.80 C178.36,251.60 179.73,245.65 181.09,242.00 C182.45,238.35 182.79,237.77 185.18,233.90 C187.57,230.03 192.00,224.92 195.40,218.80 C198.81,212.68 202.22,202.88 205.63,197.20 C209.04,191.52 212.45,189.20 215.85,184.70 C219.26,180.20 222.67,174.03 226.08,170.20 C229.49,166.37 232.90,164.00 236.30,161.70 C239.71,159.40 243.12,156.07 246.53,156.40 C249.94,156.73 253.35,162.87 256.75,163.70 C260.16,164.53 263.57,161.35 266.98,161.40 C270.39,161.45 273.80,164.20 277.20,164.00 C280.61,163.80 284.02,161.08 287.43,160.20 C290.84,159.32 294.25,160.03 297.65,158.70 C301.06,157.37 304.47,155.25 307.88,152.20 C311.29,149.15 314.70,143.97 318.11,140.40 C321.51,136.83 324.92,131.60 328.33,130.80 C331.74,130.00 333.44,135.72 338.56,135.60 C343.67,135.48 352.19,130.77 359.00,130.10 C365.82,129.43 372.64,138.37 379.45,131.60 C386.27,124.83 393.09,100.68 399.91,89.50 C406.72,78.32 413.54,71.28 420.36,64.50 C427.17,57.72 433.99,49.68 440.81,48.80 C447.62,47.92 454.44,52.10 461.25,59.20 C468.07,66.30 474.89,83.73 481.70,91.40 C488.52,99.07 495.34,102.28 502.16,105.20 C508.97,108.12 515.79,107.25 522.61,108.90 C529.42,110.55 536.24,112.47 543.05,115.10 C549.87,117.73 556.69,123.58 563.50,124.70 C570.32,125.82 577.14,123.70 583.96,121.80 C590.77,119.90 597.59,115.22 604.40,113.30 C611.22,111.38 618.04,111.15 624.86,110.30 C631.67,109.45 638.49,106.47 645.30,108.20 C652.12,109.93 658.94,118.32 665.75,120.70 C672.57,123.08 682.80,122.20 686.21,122.50" fill="none" stroke="#27A2DB" stroke-width="1.3"/>
<rect x="59" y="350.4" width="76.08" height="7.0" rx="3.5" fill="#27A2DB"/>
<circle cx="62.48" cy="354.00" r="3.05" fill="#FFC000" stroke="#27A2DB" stroke-width="1.2"/>
<circle cx="64.52" cy="354.00" r="3.05" fill="#FFC000" stroke="#27A2DB" stroke-width="1.2"/>
<circle cx="66.57" cy="354.00" r="3.05" fill="#FFC000" stroke="#27A2DB" stroke-width="1.2"/>
<circle cx="68.61" cy="354.00" r="3.05" fill="#FFC000" stroke="#27A2DB" stroke-width="1.2"/>
<circle cx="70.66" cy="354.00" r="3.05" fill="#FFC000" stroke="#27A2DB" stroke-width="1.2"/>
<circle cx="72.70" cy="354.00" r="3.05" fill="#FFC000" stroke="#27A2DB" stroke-width="1.2"/>
<circle cx="74.75" cy="354.00" r="3.05" fill="#FFC000" stroke="#27A2DB" stroke-width="1.2"/>
<circle cx="76.79" cy="354.00" r="3.05" fill="#FFC000" stroke="#27A2DB" stroke-width="1.2"/>
<circle cx="78.84" cy="354.00" r="3.05" fill="#FFC000" stroke="#27A2DB" stroke-width="1.2"/>
<circle cx="80.88" cy="354.00" r="3.05" fill="#FFC000" stroke="#27A2DB" stroke-width="1.2"/>
<circle cx="82.93" cy="354.00" r="3.05" fill="#FFC000" stroke="#27A2DB" stroke-width="1.2"/>
<circle cx="84.97" cy="354.00" r="3.05" fill="#FFC000" stroke="#27A2DB" stroke-width="1.2"/>
<circle cx="87.02" cy="354.00" r="3.05" fill="#FFC000" stroke="#27A2DB" stroke-width="1.2"/>
<circle cx="89.06" cy="354.00" r="3.05" fill="#FFC000" stroke="#27A2DB" stroke-width="1.2"/>
<circle cx="91.11" cy="354.00" r="3.05" fill="#FFC000" stroke="#27A2DB" stroke-width="1.2"/>
<circle cx="93.16" cy="354.00" r="3.05" fill="#FFC000" stroke="#27A2DB" stroke-width="1.2"/>
<circle cx="95.20" cy="354.00" r="3.05" fill="#FFC000" stroke="#27A2DB" stroke-width="1.2"/>
<circle cx="97.25" cy="354.00" r="3.05" fill="#FFC000" stroke="#27A2DB" stroke-width="1.2"/>
<circle cx="99.29" cy="354.00" r="3.05" fill="#FFC000" stroke="#27A2DB" stroke-width="1.2"/>
<circle cx="101.33" cy="354.00" r="3.05" fill="#FFC000" stroke="#27A2DB" stroke-width="1.2"/>
<circle cx="103.38" cy="354.00" r="3.05" fill="#FFC000" stroke="#27A2DB" stroke-width="1.2"/>
<circle cx="105.42" cy="354.00" r="3.05" fill="#FFC000" stroke="#27A2DB" stroke-width="1.2"/>
<circle cx="107.47" cy="354.00" r="3.05" fill="#FFC000" stroke="#27A2DB" stroke-width="1.2"/>
<circle cx="109.51" cy="354.00" r="3.05" fill="#FFC000" stroke="#27A2DB" stroke-width="1.2"/>
<circle cx="111.56" cy="354.00" r="3.05" fill="#FFC000" stroke="#27A2DB" stroke-width="1.2"/>
<circle cx="113.60" cy="354.00" r="3.05" fill="#FFC000" stroke="#27A2DB" stroke-width="1.2"/>
<circle cx="115.65" cy="354.00" r="3.05" fill="#FFC000" stroke="#27A2DB" stroke-width="1.2"/>
<circle cx="117.69" cy="354.00" r="3.05" fill="#FFC000" stroke="#27A2DB" stroke-width="1.2"/>
<circle cx="119.74" cy="354.00" r="3.05" fill="#FFC000" stroke="#27A2DB" stroke-width="1.2"/>
<circle cx="121.78" cy="354.00" r="3.05" fill="#FFC000" stroke="#27A2DB" stroke-width="1.2"/>
<circle cx="123.83" cy="354.00" r="3.05" fill="#FFC000" stroke="#27A2DB" stroke-width="1.2"/>
<circle cx="125.88" cy="354.00" r="3.05" fill="#FFC000" stroke="#27A2DB" stroke-width="1.2"/>
<circle cx="127.92" cy="354.00" r="3.05" fill="#FFC000" stroke="#27A2DB" stroke-width="1.2"/>
<circle cx="129.97" cy="354.00" r="3.05" fill="#FFC000" stroke="#27A2DB" stroke-width="1.2"/>
<circle cx="132.01" cy="354.00" r="3.05" fill="#FFC000" stroke="#27A2DB" stroke-width="1.2"/>
<circle cx="134.06" cy="354.00" r="3.05" fill="#FFC000" stroke="#27A2DB" stroke-width="1.2"/>
<circle cx="136.10" cy="353.50" r="3.05" fill="#FFC000" stroke="#27A2DB" stroke-width="1.2"/>
<circle cx="138.15" cy="348.70" r="3.05" fill="#FFC000" stroke="#27A2DB" stroke-width="1.2"/>
<circle cx="140.19" cy="341.00" r="3.05" fill="#FFC000" stroke="#27A2DB" stroke-width="1.2"/>
<circle cx="142.23" cy="334.60" r="3.05" fill="#FFC000" stroke="#27A2DB" stroke-width="1.2"/>
<circle cx="144.28" cy="327.00" r="3.05" fill="#FFC000" stroke="#27A2DB" stroke-width="1.2"/>
<circle cx="148.37" cy="317.60" r="3.05" fill="#FFC000" stroke="#27A2DB" stroke-width="1.2"/>
<circle cx="152.46" cy="294.90" r="3.05" fill="#FFC000" stroke="#27A2DB" stroke-width="1.2"/>
<circle cx="156.55" cy="289.30" r="3.05" fill="#FFC000" stroke="#27A2DB" stroke-width="1.2"/>
<circle cx="160.64" cy="284.40" r="3.05" fill="#FFC000" stroke="#27A2DB" stroke-width="1.2"/>
<circle cx="164.73" cy="278.60" r="3.05" fill="#FFC000" stroke="#27A2DB" stroke-width="1.2"/>
<circle cx="168.82" cy="272.40" r="3.05" fill="#FFC000" stroke="#27A2DB" stroke-width="1.2"/>
<circle cx="172.91" cy="267.20" r="3.05" fill="#FFC000" stroke="#27A2DB" stroke-width="1.2"/>
<circle cx="177.00" cy="255.80" r="3.05" fill="#FFC000" stroke="#27A2DB" stroke-width="1.2"/>
<circle cx="181.09" cy="242.00" r="3.05" fill="#FFC000" stroke="#27A2DB" stroke-width="1.2"/>
<circle cx="185.18" cy="233.90" r="3.05" fill="#FFC000" stroke="#27A2DB" stroke-width="1.2"/>
<circle cx="195.40" cy="218.80" r="3.05" fill="#FFC000" stroke="#27A2DB" stroke-width="1.2"/>
<circle cx="205.63" cy="197.20" r="3.05" fill="#FFC000" stroke="#27A2DB" stroke-width="1.2"/>
<circle cx="215.85" cy="184.70" r="3.05" fill="#FFC000" stroke="#27A2DB" stroke-width="1.2"/>
<circle cx="226.08" cy="170.20" r="3.05" fill="#FFC000" stroke="#27A2DB" stroke-width="1.2"/>
<circle cx="236.30" cy="161.70" r="3.05" fill="#FFC000" stroke="#27A2DB" stroke-width="1.2"/>
<circle cx="246.53" cy="156.40" r="3.05" fill="#FFC000" stroke="#27A2DB" stroke-width="1.2"/>
<circle cx="256.75" cy="163.70" r="3.05" fill="#FFC000" stroke="#27A2DB" stroke-width="1.2"/>
<circle cx="266.98" cy="161.40" r="3.05" fill="#FFC000" stroke="#27A2DB" stroke-width="1.2"/>
<circle cx="277.20" cy="164.00" r="3.05" fill="#FFC000" stroke="#27A2DB" stroke-width="1.2"/>
<circle cx="287.43" cy="160.20" r="3.05" fill="#FFC000" stroke="#27A2DB" stroke-width="1.2"/>
<circle cx="297.65" cy="158.70" r="3.05" fill="#FFC000" stroke="#27A2DB" stroke-width="1.2"/>
<circle cx="307.88" cy="152.20" r="3.05" fill="#FFC000" stroke="#27A2DB" stroke-width="1.2"/>
<circle cx="318.11" cy="140.40" r="3.05" fill="#FFC000" stroke="#27A2DB" stroke-width="1.2"/>
<circle cx="328.33" cy="130.80" r="3.05" fill="#FFC000" stroke="#27A2DB" stroke-width="1.2"/>
<circle cx="338.56" cy="135.60" r="3.05" fill="#FFC000" stroke="#27A2DB" stroke-width="1.2"/>
<circle cx="359.00" cy="130.10" r="3.05" fill="#FFC000" stroke="#27A2DB" stroke-width="1.2"/>
<circle cx="379.45" cy="131.60" r="3.05" fill="#FFC000" stroke="#27A2DB" stroke-width="1.2"/>
<circle cx="399.91" cy="89.50" r="3.05" fill="#FFC000" stroke="#27A2DB" stroke-width="1.2"/>
<circle cx="420.36" cy="64.50" r="3.05" fill="#FFC000" stroke="#27A2DB" stroke-width="1.2"/>
<circle cx="440.81" cy="48.80" r="3.05" fill="#FFC000" stroke="#27A2DB" stroke-width="1.2"/>
<circle cx="461.25" cy="59.20" r="3.05" fill="#FFC000" stroke="#27A2DB" stroke-width="1.2"/>
<circle cx="481.70" cy="91.40" r="3.05" fill="#FFC000" stroke="#27A2DB" stroke-width="1.2"/>
<circle cx="502.16" cy="105.20" r="3.05" fill="#FFC000" stroke="#27A2DB" stroke-width="1.2"/>
<circle cx="522.61" cy="108.90" r="3.05" fill="#FFC000" stroke="#27A2DB" stroke-width="1.2"/>
<circle cx="543.05" cy="115.10" r="3.05" fill="#FFC000" stroke="#27A2DB" stroke-width="1.2"/>
<circle cx="563.50" cy="124.70" r="3.05" fill="#FFC000" stroke="#27A2DB" stroke-width="1.2"/>
<circle cx="583.96" cy="121.80" r="3.05" fill="#FFC000" stroke="#27A2DB" stroke-width="1.2"/>
<circle cx="604.40" cy="113.30" r="3.05" fill="#FFC000" stroke="#27A2DB" stroke-width="1.2"/>
<circle cx="624.86" cy="110.30" r="3.05" fill="#FFC000" stroke="#27A2DB" stroke-width="1.2"/>
<circle cx="645.30" cy="108.20" r="3.05" fill="#FFC000" stroke="#27A2DB" stroke-width="1.2"/>
<circle cx="665.75" cy="120.70" r="3.05" fill="#FFC000" stroke="#27A2DB" stroke-width="1.2"/>
<circle cx="686.21" cy="122.50" r="3.05" fill="#FFC000" stroke="#27A2DB" stroke-width="1.2"/>
</g>
<line x1="137.9" y1="31.20" x2="177.7" y2="31.20" stroke="#0070C0" stroke-width="1.3"/>
<rect x="155.30" y="28.70" width="5" height="5" fill="#0070C0"/>
<text x="181.1" y="37.40">10 mm</text>
<line x1="137.9" y1="55.40" x2="177.7" y2="55.40" stroke="#FF0000" stroke-width="1.3"/>
<path d="M157.80,51.90 L161.40,58.60 L154.20,58.60 Z" fill="#FF0000"/>
<text x="181.1" y="61.60">20 mm</text>
<line x1="137.9" y1="79.80" x2="177.7" y2="79.80" stroke="#00B050" stroke-width="1.3"/>
<path d="M157.80,76.10 L161.20,79.80 L157.80,83.50 L154.40,79.80 Z" fill="#00B050"/>
<text x="181.1" y="86.00">30 mm</text>
<line x1="137.9" y1="104.10" x2="177.7" y2="104.10" stroke="#27A2DB" stroke-width="1.3"/>
<circle cx="157.80" cy="104.10" r="3.05" fill="#FFC000" stroke="#27A2DB" stroke-width="1.2"/>
<text x="181.1" y="110.30">60 mm</text>
</svg></body></html>
